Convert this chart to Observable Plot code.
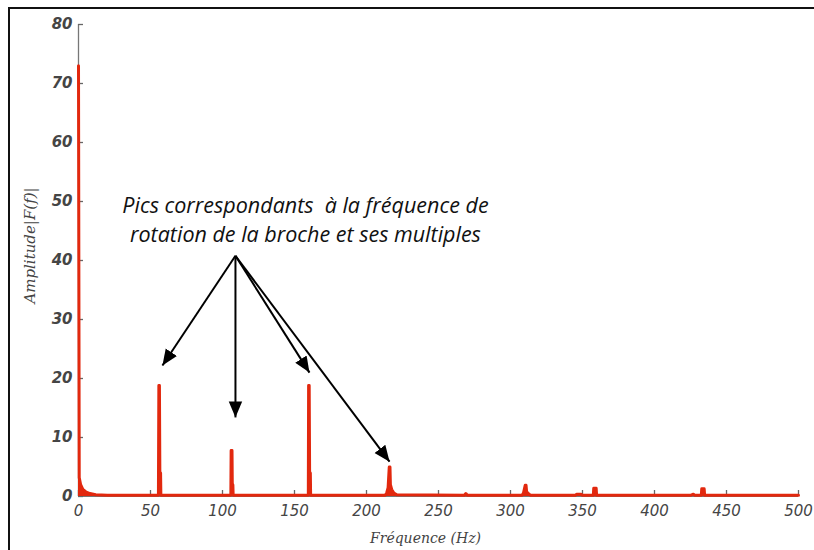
<!DOCTYPE html>
<html><head><meta charset="utf-8">
<script src="https://cdn.jsdelivr.net/npm/d3@7"></script>
<script src="https://cdn.jsdelivr.net/npm/@observablehq/plot@0.6"></script>
<style>
body{margin:0;background:#fff;}
#wrap{position:relative;width:814px;height:550px;overflow:hidden;background:#fff;}
#chart{position:absolute;left:0;top:0;}
#frame{position:absolute;left:8px;top:7px;right:0;bottom:-4px;border-top:2px solid #111;border-left:2px solid #111;pointer-events:none;}
</style></head><body>
<div id="wrap"><div id="chart"></div><div id="frame"></div></div>
<script>
// Spectrum (frequency in Hz, amplitude |F(f)|)
const freq = [0, 0.5, 1.5, 3, 5, 8, 12, 20,
  55.5, 55.8, 56.2, 56.5, 57.0, 57.2,
  105.8, 106.0, 106.6, 106.8, 107.2, 107.4,
  159.6, 159.8, 160.2, 160.5, 161.0, 161.2,
  213, 214, 215, 215.8, 216.3, 216.6, 217.5, 219, 221,
  268, 269, 270,
  308, 309, 310.2, 310.8, 311.2, 312.5, 314,
  345, 346, 349, 350,
  357.5, 357.8, 359.5, 359.8,
  425, 427, 428,
  432.5, 432.8, 434.5, 434.8,
  500];
const amp = [73, 3.2, 2.0, 1.2, 0.8, 0.5, 0.3, 0.2,
  0.2, 18.8, 18.8, 4.0, 4.0, 0.2,
  0.2, 7.8, 7.8, 2.0, 2.0, 0.2,
  0.2, 18.8, 18.8, 4.0, 4.0, 0.2,
  0.2, 0.6, 1.5, 5.0, 5.0, 2.0, 1.2, 0.6, 0.3,
  0.2, 0.5, 0.2,
  0.2, 0.6, 1.9, 1.9, 0.8, 0.5, 0.2,
  0.2, 0.4, 0.4, 0.2,
  0.2, 1.4, 1.4, 0.2,
  0.2, 0.4, 0.2,
  0.2, 1.3, 1.3, 0.2,
  0.2];
const xTicks = [0, 50, 100, 150, 200, 250, 300, 350, 400, 450, 500];
const yTicks = [0, 10, 20, 30, 40, 50, 60, 70, 80];

// Annotation (in data units)
const noteLines = ["Pics correspondants  à la fréquence de", "rotation de la broche et ses multiples"];
const noteFreq = [157.6];
const noteAmp = [47.2];
const arrowFromFreq = 109, arrowFromAmp = 40.8;
const arrowToFreq = [58.3, 109, 160.4, 216];
const arrowToAmp = [22.2, 13.4, 21.0, 5.9];

const spectrum = freq.map((f, i) => ({f, a: amp[i]}));
const arrows = arrowToFreq.map((f, i) => ({x1: arrowFromFreq, y1: arrowFromAmp, x2: f, y2: arrowToAmp[i]}));
const note = noteFreq.map((f, i) => ({f, a: noteAmp[i], t: noteLines.join("\n")}));

const red = "#e2280e";

function filledHead(color) {
  const m = d3.create("svg:marker")
    .attr("viewBox", "-10 -5 10 10")
    .attr("markerWidth", 8)
    .attr("markerHeight", 8)
    .attr("refX", 0).attr("refY", 0)
    .attr("orient", "auto")
    .attr("fill", color)
    .attr("stroke", "none");
  m.append("path").attr("d", "M-10,-4.2L0,0L-10,4.2Z");
  return m.node();
}

const chart = Plot.plot({
  width: 814,
  height: 550,
  marginLeft: 78,
  marginRight: 16,
  marginTop: 24,
  marginBottom: 54,
  style: {background: "transparent", overflow: "visible"},
  x: {domain: [0, 500], label: null},
  y: {domain: [0, 80], label: null},
  marks: [
    Plot.ruleX([0], {y1: 0, y2: 80, stroke: "#777", strokeWidth: 1.3}),
    Plot.ruleY([0], {stroke: "#777", strokeWidth: 1}),
    // inward ticks
    Plot.ruleY(yTicks, {y: d => d, x1: 0, x2: 0, insetRight: -5, stroke: "#666", strokeWidth: 1.3}),
    Plot.ruleX(xTicks, {x: d => d, y1: 0, y2: 0, insetTop: -6, stroke: "#666", strokeWidth: 1.3}),
    Plot.axisY({ticks: yTicks, tickSize: 0, tickPadding: 6,
      fontFamily: "DejaVu Sans", fontStyle: "italic", fontWeight: "bold", fontSize: 15, fill: "#454545", label: null}),
    Plot.axisX({ticks: xTicks, tickSize: 0, tickPadding: 9,
      fontFamily: "DejaVu Sans", fontStyle: "italic", fontSize: 15, fill: "#454545", label: null}),
    Plot.areaY(spectrum, {x: "f", y: "a", fill: red, curve: "linear"}),
    Plot.lineY(spectrum, {x: "f", y: "a", stroke: red, strokeWidth: 3, curve: "linear"}),
    Plot.link(arrows, {x1: "x1", y1: "y1", x2: "x2", y2: "y2", stroke: "#000", strokeWidth: 2, markerEnd: filledHead}),
    Plot.text(note, {x: "f", y: "a", text: "t", fontFamily: "Open Sans", fontStyle: "italic", fontSize: 21.5,
      lineHeight: 1.38, fill: "#111", textAnchor: "middle", lineAnchor: "middle"}),
    Plot.text([0], {frameAnchor: "bottom", text: () => "Fréquence (Hz)", dx: -13, dy: 46,
      fontFamily: "DejaVu Serif", fontStyle: "italic", fontSize: 14, fill: "#444"}),
    Plot.text([0], {frameAnchor: "left", text: () => "Amplitude|F(f)|", dx: -48, dy: -15, rotate: -90, textAnchor: "middle",
      fontFamily: "DejaVu Serif", fontStyle: "italic", fontSize: 15, fill: "#444"})
  ]
});
document.getElementById("chart").appendChild(chart);
</script>
</body></html>
